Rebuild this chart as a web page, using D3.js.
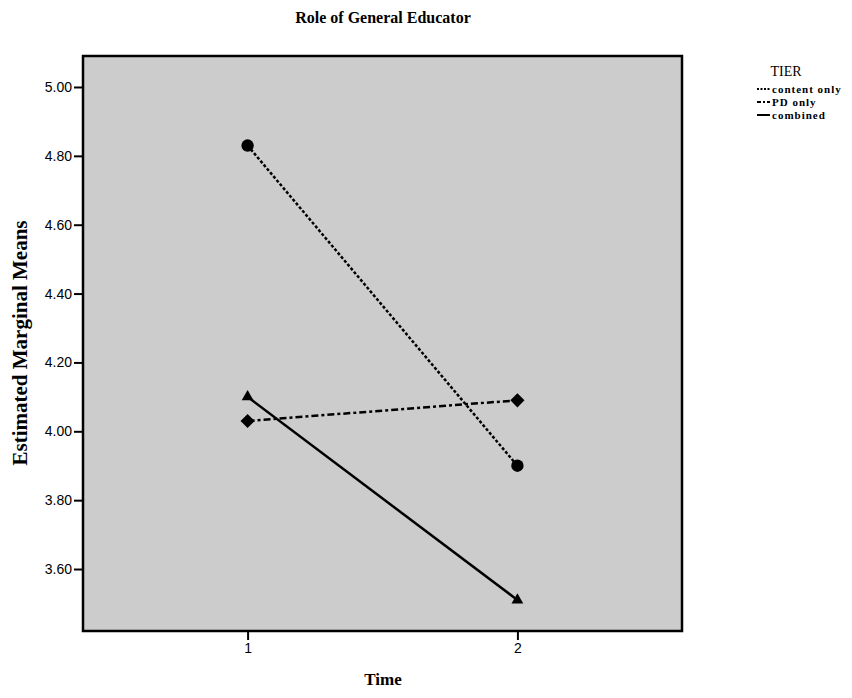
<!DOCTYPE html>
<html>
<head>
<meta charset="utf-8">
<script src="https://cdn.jsdelivr.net/npm/d3@7"></script>
<style>
  html, body { margin: 0; padding: 0; background: #ffffff; }
  svg { display: block; }
</style>
</head>
<body>
<svg id="chart" width="852" height="698"></svg>
<script>
// ---- data ----
const timePoints = [1, 2];
const tierNames = ["content only", "PD only", "combined"];
const contentOnly = [4.83, 3.90];
const pdOnly = [4.03, 4.09];
const combined = [4.10, 3.51];
const yTickValues = [3.6, 3.8, 4.0, 4.2, 4.4, 4.6, 4.8, 5.0];
const xTickLabels = ["1", "2"];
const chartTitle = "Role of General Educator";
const yTitle = "Estimated Marginal Means";
const xTitle = "Time";
const legendTitle = "TIER";

const seriesData = [
  { name: tierNames[0], values: contentOnly, dash: "3,2", legendDash: "2,1.5", marker: "circle" },
  { name: tierNames[1], values: pdOnly, dash: "7,3,3,3", legendDash: "4,2,2,2", marker: "diamond" },
  { name: tierNames[2], values: combined, dash: null, legendDash: null, marker: "triangle" }
];

// ---- layout ----
const plot = { left: 83, top: 56, right: 682, bottom: 631 };
const serif = "'Liberation Serif', 'Times New Roman', serif";
const sans = "'Liberation Sans', Arial, sans-serif";

const svg = d3.select("#chart");

const x = d3.scaleLinear().domain([0.39, 2.61]).range([plot.left, plot.right]);
const y = d3.scaleLinear().domain([3.42, 5.09]).range([plot.bottom, plot.top]);

// plot background
svg.append("rect")
  .attr("x", plot.left).attr("y", plot.top)
  .attr("width", plot.right - plot.left).attr("height", plot.bottom - plot.top)
  .attr("fill", "#cccccc");

// axes
const yAxis = d3.axisLeft(y).tickValues(yTickValues).tickFormat(d3.format(".2f")).tickSizeOuter(0).tickSize(9).tickPadding(2);
const gy = svg.append("g").attr("transform", `translate(${plot.left},0)`).call(yAxis);
gy.select(".domain").remove();
gy.selectAll(".tick line").attr("stroke", "#000").attr("stroke-width", 2);
gy.selectAll(".tick text").attr("font-family", sans).attr("font-size", 14).attr("fill", "#000");

const xAxis = d3.axisBottom(x).tickValues(timePoints).tickFormat((d, i) => xTickLabels[i]).tickSizeOuter(0).tickSize(9).tickPadding(3);
const gx = svg.append("g").attr("transform", `translate(0,${plot.bottom})`).call(xAxis);
gx.select(".domain").remove();
gx.selectAll(".tick line").attr("stroke", "#000").attr("stroke-width", 2);
gx.selectAll(".tick text").attr("font-family", sans).attr("font-size", 14).attr("fill", "#000");

// frame
svg.append("rect")
  .attr("x", plot.left).attr("y", plot.top)
  .attr("width", plot.right - plot.left).attr("height", plot.bottom - plot.top)
  .attr("fill", "none").attr("stroke", "#000").attr("stroke-width", 2.5);

// lines
const line = d3.line().x((d, i) => x(timePoints[i])).y(d => y(d));
seriesData.forEach(s => {
  svg.append("path")
    .datum(s.values)
    .attr("d", line)
    .attr("fill", "none")
    .attr("stroke", "#000")
    .attr("stroke-width", 2.5)
    .attr("stroke-dasharray", s.dash);
});

// markers
const symbolFor = { circle: d3.symbolCircle, diamond: d3.symbolSquare, triangle: d3.symbolTriangle };
const sizeFor = { circle: 120, diamond: 100, triangle: 60 };
const rotFor = { circle: 0, diamond: 45, triangle: 0 };
seriesData.forEach(s => {
  svg.append("g").selectAll("path")
    .data(s.values)
    .join("path")
    .attr("d", d3.symbol().type(symbolFor[s.marker]).size(sizeFor[s.marker]))
    .attr("transform", (d, i) => `translate(${x(timePoints[i])},${y(d)}) rotate(${rotFor[s.marker]})`)
    .attr("fill", "#000");
});

// titles
svg.append("text")
  .attr("x", 383).attr("y", 23)
  .attr("text-anchor", "middle")
  .attr("font-family", serif).attr("font-weight", "bold").attr("font-size", 16)
  .text(chartTitle);

svg.append("text")
  .attr("transform", "translate(27,343) rotate(-90)")
  .attr("text-anchor", "middle")
  .attr("font-family", serif).attr("font-weight", "bold").attr("font-size", 21)
  .text(yTitle);

svg.append("text")
  .attr("x", 383).attr("y", 685)
  .attr("text-anchor", "middle")
  .attr("font-family", serif).attr("font-weight", "bold").attr("font-size", 17)
  .text(xTitle);

// legend
const lg = svg.append("g");
lg.append("text")
  .attr("x", 786).attr("y", 76)
  .attr("text-anchor", "middle")
  .attr("font-family", serif).attr("font-size", 14)
  .text(legendTitle);

seriesData.forEach((s, i) => {
  const yy = 93 + i * 13;
  lg.append("line")
    .attr("x1", 757).attr("x2", 770)
    .attr("y1", yy - 4).attr("y2", yy - 4)
    .attr("stroke", "#000").attr("stroke-width", 2)
    .attr("stroke-dasharray", s.legendDash);
  lg.append("text")
    .attr("x", 772).attr("y", yy)
    .attr("font-family", serif).attr("font-weight", "bold").attr("font-size", 11)
    .attr("letter-spacing", 1)
    .text(s.name);
});
</script>
</body>
</html>
